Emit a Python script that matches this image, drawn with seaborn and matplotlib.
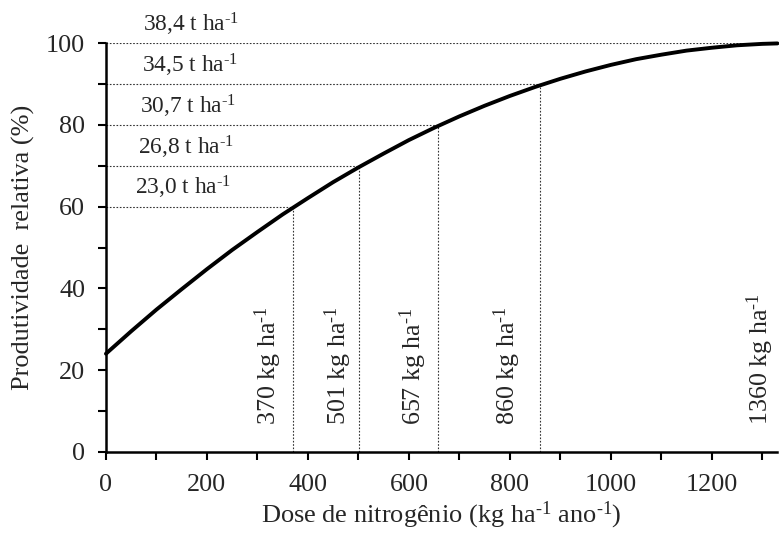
import matplotlib
matplotlib.use("Agg")
import matplotlib.pyplot as plt
import pandas as pd
import seaborn as sns
from matplotlib.ticker import MultipleLocator

# curve (dose in kg/ha/yr, relative yield in %)
dose = [0, 50, 100, 150, 200, 250, 300, 350, 400, 450, 500, 550, 600, 650,
        700, 750, 800, 850, 900, 950, 1000, 1050, 1100, 1150, 1200, 1250,
        1300, 1330]
rel_yield = [24.0, 29.5, 34.8, 39.8, 44.7, 49.4, 53.8, 58.1, 62.1, 66.0,
             69.6, 73.0, 76.3, 79.3, 82.1, 84.7, 87.1, 89.3, 91.3, 93.1,
             94.7, 96.1, 97.2, 98.2, 98.9, 99.5, 99.85, 99.96]

# reference levels
levels = [60, 70, 80, 90, 100]
level_doses = [370, 501, 657, 860, 1360]
yields = ["23,0", "26,8", "30,7", "34,5", "38,4"]

SUP = r"$^{\text{-1}}$"

df = pd.DataFrame({"dose": dose, "rel": rel_yield})

sns.set_theme(style="ticks")
plt.rcParams["font.family"] = ["Liberation Serif", "DejaVu Serif"]
plt.rcParams["mathtext.fontset"] = "custom"
plt.rcParams["mathtext.rm"] = "Liberation Serif"
plt.rcParams["mathtext.it"] = "Liberation Serif:italic"

fig = plt.figure(figsize=(7.79, 5.34), dpi=100)
ax = fig.add_axes([0.136, 0.154, 0.862, 0.765])

# dotted guide lines
for lv, d in zip(levels, level_doses):
    ax.hlines(lv, 0, d, colors="#333333", linestyles=(0, (1.5, 1.5)), linewidth=0.8)
    ax.vlines(d, 0, lv, colors="#333333", linestyles=(0, (1.5, 1.5)), linewidth=0.8)

sns.lineplot(data=df, x="dose", y="rel", ax=ax, color="black", linewidth=2.8,
             clip_on=False, zorder=5)

# yield labels above each horizontal line
text_x = [57, 63, 67, 71, 73]
for lv, tx, yv in zip(levels, text_x, yields):
    ax.text(tx, lv + 4.6, yv + " t ha" + SUP, ha="left", va="center",
            fontsize=16.8, clip_on=False)

# dose labels, rotated
dose_text_x = [321, 460, 608, 794, 1295]
for d, tx in zip(level_doses, dose_text_x):
    ax.text(tx, 6.5, f"{d} kg ha" + SUP, rotation=90, ha="center",
            va="bottom", fontsize=18.7)

ax.set_xlim(0, 1330)
ax.set_ylim(0, 100)
ax.xaxis.set_major_locator(MultipleLocator(200))
ax.xaxis.set_minor_locator(MultipleLocator(100))
ax.yaxis.set_major_locator(MultipleLocator(20))
ax.yaxis.set_minor_locator(MultipleLocator(10))
ax.tick_params(which="both", direction="out", width=1.5, length=6,
               labelsize=18.8, color="black")
ax.tick_params(axis="x", pad=10)
ax.tick_params(axis="y", pad=9)

for s in ["top", "right"]:
    ax.spines[s].set_visible(False)
for s in ["left", "bottom"]:
    ax.spines[s].set_linewidth(1.8)
    ax.spines[s].set_color("black")

ax.set_xlabel("Dose de nitrogênio (kg ha" + SUP + " ano" + SUP + ")",
              fontsize=19, labelpad=3)
ax.set_ylabel("Produtividade  relativa (%)", fontsize=18.9, labelpad=8)

fig.savefig("out.png", dpi=100)
